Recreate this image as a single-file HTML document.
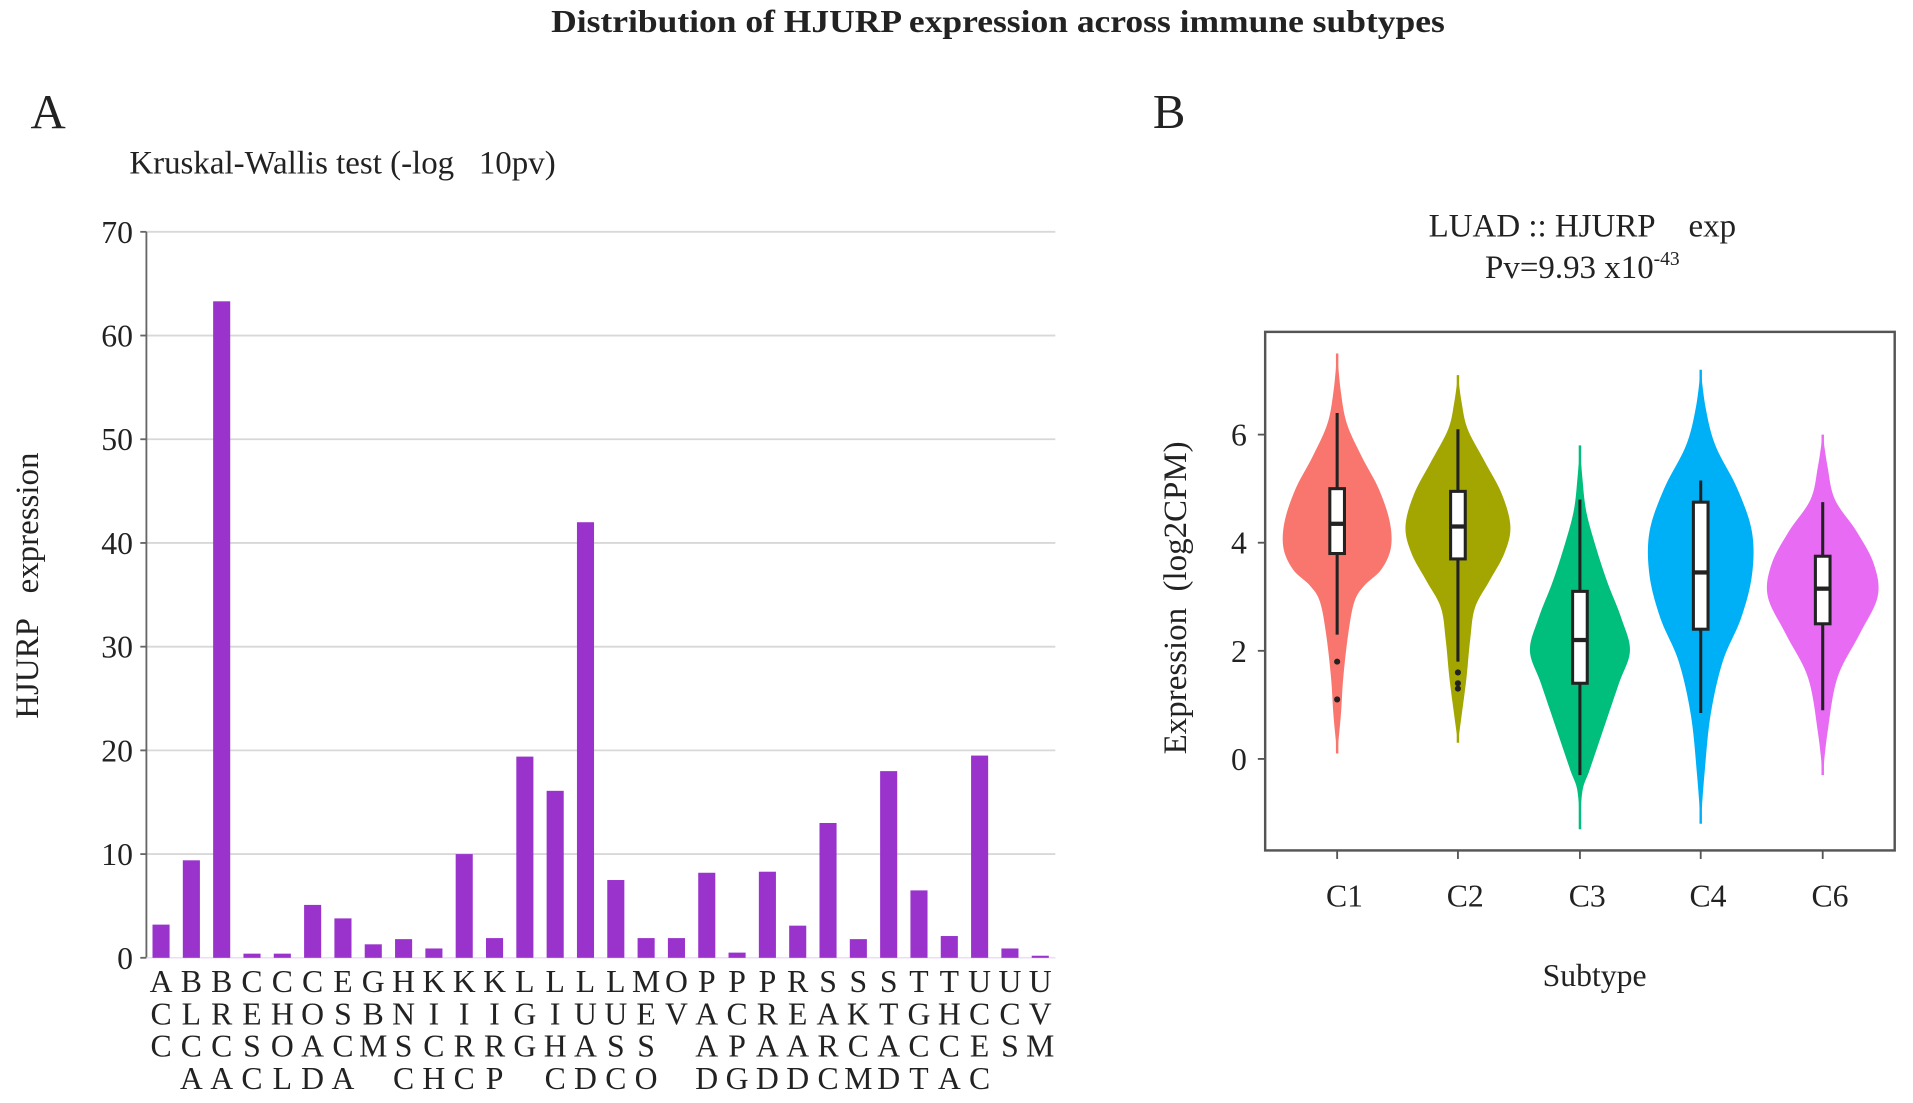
<!DOCTYPE html>
<html><head><meta charset="utf-8"><style>
html,body{margin:0;padding:0;background:#fff;}
svg{display:block;}
text{font-family:"Liberation Serif",serif;fill:#222;}
</style></head><body>
<svg id="fig" width="1913" height="1103" viewBox="0 0 1568 904" preserveAspectRatio="none" xmlns="http://www.w3.org/2000/svg">
<text x="818" y="30" text-anchor="middle" font-size="30" font-weight="bold" transform="translate(818,0) scale(0.97,0.88) translate(-818,0)">Distribution of HJURP expression across immune subtypes</text>
<text x="25" y="105" font-size="40">A</text>
<text x="945" y="105" font-size="40">B</text>
<text x="106" y="142" font-size="27">Kruskal-Wallis test (-log&#160;&#160;&#160;10pv)</text>
<text transform="translate(31,480) rotate(-90)" text-anchor="middle" font-size="27">HJURP&#160;&#160;&#160;expression</text>
<g id="barA"></g>
<text x="1297" y="194" text-anchor="middle" font-size="27">LUAD :: HJURP&#160;&#160;&#160;&#160;exp</text>
<text x="1297" y="228" text-anchor="middle" font-size="27">Pv=9.93 x10<tspan font-size="16" dy="-11">-43</tspan></text>
<text transform="translate(972,490) rotate(-90)" text-anchor="middle" font-size="27">Expression&#160;&#160;(log2CPM)</text>
<text x="1307" y="808" text-anchor="middle" font-size="26">Subtype</text>
<g id="violB"></g>
</svg>
<script>
const cancerTypes = ["ACC","BLCA","BRCA","CESC","CHOL","COAD","ESCA","GBM","HNSC","KICH","KIRC","KIRP","LGG","LIHC","LUAD","LUSC","MESO","OV","PAAD","PCPG","PRAD","READ","SARC","SKCM","STAD","TGCT","THCA","UCEC","UCS","UVM"];
const kwValues = [3.2,9.4,63.3,0.4,0.4,5.1,3.8,1.3,1.8,0.9,10,1.9,19.4,16.1,42,7.5,1.9,1.9,8.2,0.5,8.3,3.1,13,1.8,18,6.5,2.1,19.5,0.9,0.2];
const barTicks = [0,10,20,30,40,50,60,70];

const subtypes = ["C1","C2","C3","C4","C6"];
const violinColors = ["#F8766D","#A3A500","#00BF7D","#00B0F6","#E76BF3"];
const violinProfiles = [
 [[0.1,0],[0.8,3],[1.5,5],[2.3,9],[2.9,14],[3.2,22],[3.5,36],[3.9,44],[4.4,43],[5.0,34],[5.6,20],[6.2,8],[6.8,3],[7.5,0]],
 [[0.3,0],[0.8,3],[1.5,7],[2.2,10],[2.8,14],[3.3,26],[3.8,38],[4.3,43],[4.9,36],[5.5,22],[6.1,8],[6.6,3],[7.1,0]],
 [[-1.3,0],[-0.6,2],[-0.2,8],[0.6,20],[1.4,32],[2.0,41],[2.6,34],[3.3,22],[4,12],[4.6,5],[5.2,2],[5.8,0]],
 [[-1.2,0],[-0.3,3],[0.8,8],[1.8,18],[2.6,33],[3.4,42],[4.2,42],[5.0,30],[5.8,12],[6.5,4],[7.2,0]],
 [[-0.3,0],[0.5,4],[1.5,12],[2.3,30],[3,45],[3.6,42],[4.2,28],[4.8,10],[5.4,4],[6,0]]
];
const boxQ1 = [3.8,3.7,1.4,2.4,2.5];
const boxMedian = [4.35,4.3,2.2,3.45,3.15];
const boxQ3 = [5.0,4.95,3.1,4.75,3.75];
const whiskerLow = [2.3,1.8,-0.3,0.85,0.9];
const whiskerHigh = [6.4,6.1,4.8,5.15,4.75];
const outliers = [[1.8,1.1],[1.6,1.4,1.3],[],[],[]];
const violinTicks = [0,2,4,6];

const NS="http://www.w3.org/2000/svg";
function mk(parent,tag,attrs){const e=document.createElementNS(NS,tag);for(const k in attrs)e.setAttribute(k,attrs[k]);parent.appendChild(e);return e;}

const gA=document.getElementById('barA');
const ax0=120, ax1=865, y0=785, y70=190;
const yA=v=>y0-(v/70)*(y0-y70);
const step=24.85, firstX=132;
const xA=i=>firstX+i*step;
barTicks.forEach(t=>{
  if(t>0){const g=mk(gA,'line',{x1:ax0,x2:ax1,y1:yA(t),y2:yA(t),stroke:'#d8d8d8','stroke-width':1.5});
  
  }
  const tk=mk(gA,'line',{x1:ax0-5,x2:ax0,y1:yA(t),y2:yA(t),stroke:'#666','stroke-width':1.5});
  
  
  const tx=mk(gA,'text',{x:ax0-11,y:yA(t)+9,'text-anchor':'end','font-size':26});
  tx.textContent=t;
  
  
});
const yl=mk(gA,'line',{x1:ax0,x2:ax0,y1:y70,y2:y0,stroke:'#666','stroke-width':1.5});


const bl=mk(gA,'line',{x1:ax0,x2:ax1,y1:y0,y2:y0,stroke:'#e6d0f0','stroke-width':1});


cancerTypes.forEach((c,i)=>{
  const v=kwValues[i];
  const r=mk(gA,'rect',{x:xA(i)-7,y:yA(v),width:14,height:y0-yA(v),fill:'#9933CC'});
  
  
  const t=mk(gA,'text',{'text-anchor':'middle','font-size':26});
  
  
  c.split('').forEach((ch,k)=>{const s=mk(t,'tspan',{x:xA(i),y:813+k*26.5});s.textContent=ch;});
});

const gB=document.getElementById('violB');
const bx0=1037,bx1=1553,by0=272,by1=697;
const yB=v=>622-v*44.3;
const xPos=[1096,1195,1295,1394,1494];
const fr=mk(gB,'rect',{x:bx0,y:by0,width:bx1-bx0,height:by1-by0,fill:'none',stroke:'#555','stroke-width':2});


violinTicks.forEach(t=>{
  const tk=mk(gB,'line',{x1:bx0-6,x2:bx0,y1:yB(t),y2:yB(t),stroke:'#555','stroke-width':1.5});
  
  
  const tx=mk(gB,'text',{x:bx0-15,y:yB(t)+9,'text-anchor':'end','font-size':26});
  tx.textContent=t;
  
  
});
subtypes.forEach((s,i)=>{
  const cx=xPos[i], prof=violinProfiles[i];
  const pts=[];
  for(let j=0;j<prof.length-1;j++){
    const p0=prof[Math.max(0,j-1)],p1=prof[j],p2=prof[j+1],p3=prof[Math.min(prof.length-1,j+2)];
    for(let t=0;t<1;t+=0.1){
      const t2=t*t,t3=t2*t;
      const f=(a,b,c,d)=>0.5*((2*b)+(-a+c)*t+(2*a-5*b+4*c-d)*t2+(-a+3*b-3*c+d)*t3);
      pts.push([f(p0[0],p1[0],p2[0],p3[0]),Math.max(0,f(p0[1],p1[1],p2[1],p3[1]))]);
    }
  }
  pts.push(prof[prof.length-1]);
  let d='M'+pts.map(p=>(cx+Math.max(p[1],1))+','+yB(p[0])).join(' L');
  d+=' L'+pts.slice().reverse().map(p=>(cx-Math.max(p[1],1))+','+yB(p[0])).join(' L')+'Z';
  const v=mk(gB,'path',{d:d,fill:violinColors[i]});
  
  
  const w=mk(gB,'line',{x1:cx,x2:cx,y1:yB(whiskerLow[i]),y2:yB(whiskerHigh[i]),stroke:'#222','stroke-width':2.5});
  
  
  const b=mk(gB,'rect',{x:cx-6,y:yB(boxQ3[i]),width:12,height:yB(boxQ1[i])-yB(boxQ3[i]),fill:'#fff',stroke:'#222','stroke-width':2.5});
  
  
  const m=mk(gB,'line',{x1:cx-6,x2:cx+6,y1:yB(boxMedian[i]),y2:yB(boxMedian[i]),stroke:'#222','stroke-width':3.5});
  
  
  outliers[i].forEach(o=>{
    const c=mk(gB,'circle',{cx:cx,cy:yB(o),r:2.5,fill:'#222'});
    
    
  });
  const tk=mk(gB,'line',{x1:cx,x2:cx,y1:by1,y2:by1+7,stroke:'#555','stroke-width':1.5});
  
  
  const tx=mk(gB,'text',{x:cx+6,y:743,'text-anchor':'middle','font-size':26});
  tx.textContent=s;
  
  
});
</script>
</body></html>
